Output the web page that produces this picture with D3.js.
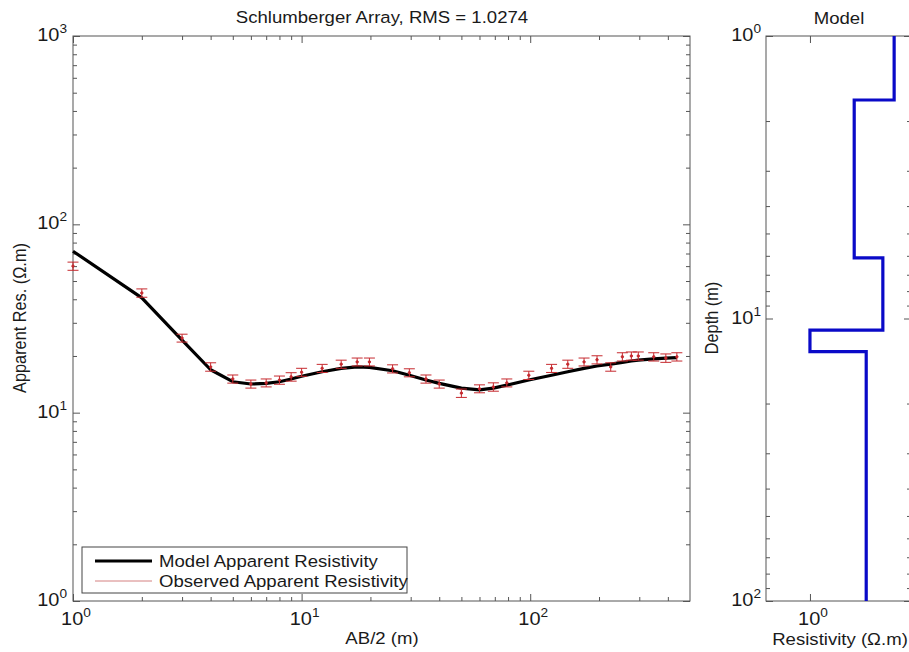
<!DOCTYPE html>
<html>
<head>
<meta charset="utf-8">
<script src="https://cdn.jsdelivr.net/npm/d3@7"></script>
<style>
  body { margin: 0; background: #fff; }
  text { font-family: "Liberation Sans", Arial, sans-serif; fill: #1a1a1a; }
</style>
</head>
<body>
<div id="chart"></div>
<script>
// Sounding: electrode half-spacing AB/2 (m)
const abHalf = [1, 2, 3, 4, 5, 6, 7, 8, 9, 10, 12.3, 14.9, 17.5, 19.8, 25, 29.6, 35, 40, 50, 60, 69, 79, 98.6, 124, 146, 172, 196, 225, 253, 277, 297, 347, 392, 438];
// Model apparent resistivity (ohm.m)
const modelRho = [72, 40.7, 24.3, 16.9, 14.6, 14.2, 14.3, 14.6, 15.1, 15.6, 16.5, 17.2, 17.5, 17.4, 16.7, 15.8, 14.9, 14.3, 13.5, 13.2, 13.5, 14.0, 14.9, 15.8, 16.5, 17.2, 17.7, 18.1, 18.5, 18.8, 19.0, 19.3, 19.5, 19.6];
// Observed apparent resistivity and its error (ohm.m)
const obsRho = [60, 43.2, 24.9, 17.5, 15.1, 14.2, 14.4, 14.9, 15.5, 16.4, 17.2, 18.1, 18.6, 18.6, 17.1, 16.3, 15.1, 14.2, 12.7, 13.4, 13.7, 14.4, 15.8, 17.2, 18.1, 18.6, 19.1, 17.5, 19.8, 20.0, 20.0, 19.8, 19.5, 19.8];
const obsErr = [3.0, 2.2, 1.2, 0.9, 0.75, 0.7, 0.7, 0.75, 0.8, 0.8, 0.85, 0.9, 0.9, 0.9, 0.85, 0.8, 0.75, 0.7, 0.65, 0.65, 0.7, 0.7, 0.8, 0.85, 0.9, 0.9, 0.95, 0.9, 1.0, 1.0, 1.0, 1.0, 1.0, 1.0];

// Layered model: resistivity and depth range of each layer
const layerRes = [2.33, 1.56, 2.08, 1.0, 1.76];
const layerTop = [1, 1.685, 6.1, 11.0, 13.1];
const layerBottom = [1.685, 6.1, 11.0, 13.1, 100];

const W = 909, H = 652;
const FS = 16.3, SX = 1.14;      // font size and horizontal stretch of the text
const TFS = 17.5;                // tick label size
const AX = "#555";

const svg = d3.select("#chart").append("svg")
  .attr("width", W)
  .attr("height", H);

// scales
const x = d3.scaleLog().domain([1, 500]).range([73, 690]);
const y = d3.scaleLog().domain([1, 1000]).range([601, 36]);
const rx = d3.scaleLog().domain([0.643, 2.76]).range([766, 911]);
const ry = d3.scaleLog().domain([1, 100]).range([36, 601]);

function minorTicks(lo, hi) {
  const out = [];
  for (let p = Math.floor(Math.log10(lo)); p <= Math.ceil(Math.log10(hi)); p++) {
    for (let k = 2; k <= 9; k++) {
      const v = k * Math.pow(10, p);
      if (v > lo && v < hi) out.push(v);
    }
  }
  return out;
}

// inward MATLAB style ticks drawn with d3 axes
function drawTicks(axisFn, scale, tx, ty, vals, len) {
  svg.append("g")
    .attr("transform", `translate(${tx},${ty})`)
    .attr("color", AX)
    .call(axisFn(scale).tickValues(vals).tickSize(-len).tickFormat(""))
    .call(g => g.select(".domain").remove());
}

// "10^n" label
function powLabel(px, py, exp, anchor) {
  const t = svg.append("text")
    .attr("transform", `translate(${px},${py}) scale(${SX},1)`)
    .attr("text-anchor", anchor)
    .attr("font-size", TFS);
  t.append("tspan").text("10");
  t.append("tspan").attr("dy", -8).attr("font-size", 12).text(exp);
}

function plainText(px, py, str, anchor, rot) {
  return svg.append("text")
    .attr("transform", `translate(${px},${py}) scale(${SX},1)` + (rot ? " rotate(-90)" : ""))
    .attr("text-anchor", anchor)
    .attr("font-size", FS)
    .text(str);
}

// ---------- left panel: sounding curve ----------
const xMaj = [1, 10, 100], yMaj = [1, 10, 100, 1000];
const xMin = minorTicks(1, 500), yMin = minorTicks(1, 1000);

svg.append("rect")
  .attr("x", x(1)).attr("y", y(1000))
  .attr("width", x(500) - x(1)).attr("height", y(1) - y(1000))
  .attr("fill", "none").attr("stroke", AX).attr("stroke-width", 1);

drawTicks(d3.axisBottom, x, 0, y(1), xMin, 4);
drawTicks(d3.axisTop, x, 0, y(1000), xMin, 4);
drawTicks(d3.axisBottom, x, 0, y(1), xMaj, 7);
drawTicks(d3.axisTop, x, 0, y(1000), xMaj, 7);
drawTicks(d3.axisLeft, y, x(1), 0, yMin, 4);
drawTicks(d3.axisRight, y, x(500), 0, yMin, 4);
drawTicks(d3.axisLeft, y, x(1), 0, yMaj, 7);
drawTicks(d3.axisRight, y, x(500), 0, yMaj, 7);

xMaj.forEach(v => powLabel(x(v) + 3, 625, Math.round(Math.log10(v)), "middle"));
yMaj.forEach(v => powLabel(x(1) - 6, y(v) + 5, Math.round(Math.log10(v)), "end"));

// model curve
const model = abHalf.map((a, i) => [a, modelRho[i]]);
svg.append("path")
  .datum(model)
  .attr("fill", "none")
  .attr("stroke", "#000")
  .attr("stroke-width", 3.2)
  .attr("stroke-linejoin", "round")
  .attr("d", d3.line().x(d => x(d[0])).y(d => y(d[1])));

// observed points with error bars
const obs = abHalf.map((a, i) => ({ a: a, v: obsRho[i], e: obsErr[i] }));
const red = "#c62a2f";
const eb = svg.append("g").attr("stroke", red).attr("stroke-width", 1);
obs.forEach(d => {
  const cx = x(d.a), y0 = y(d.v + d.e), y1 = y(d.v - d.e);
  eb.append("line").attr("x1", cx).attr("x2", cx).attr("y1", y0).attr("y2", y1);
  eb.append("line").attr("x1", cx - 5.5).attr("x2", cx + 5.5).attr("y1", y0).attr("y2", y0);
  eb.append("line").attr("x1", cx - 5.5).attr("x2", cx + 5.5).attr("y1", y1).attr("y2", y1);
  eb.append("circle").attr("cx", cx).attr("cy", y(d.v)).attr("r", 1.2).attr("fill", red);
});

plainText(382, 23, "Schlumberger Array, RMS = 1.0274", "middle");
plainText(382, 644, "AB/2 (m)", "middle");
plainText(26, 318, "Apparent Res. (\u03A9.m)", "middle", true);

// legend
svg.append("rect")
  .attr("x", 82).attr("y", 547).attr("width", 325).attr("height", 46)
  .attr("fill", "#fff").attr("stroke", "#444").attr("stroke-width", 1);
svg.append("line").attr("x1", 95).attr("x2", 152).attr("y1", 561).attr("y2", 561)
  .attr("stroke", "#000").attr("stroke-width", 3.2);
svg.append("line").attr("x1", 95).attr("x2", 152).attr("y1", 581).attr("y2", 581)
  .attr("stroke", "#d48080").attr("stroke-width", 1);
plainText(159, 567, "Model Apparent Resistivity", "start");
plainText(159, 587, "Observed Apparent Resistivity", "start");

// ---------- right panel: layered model ----------
const dMaj = [1, 10, 100], dMin = minorTicks(1, 100);

svg.append("rect")
  .attr("x", rx.range()[0]).attr("y", ry(1))
  .attr("width", rx.range()[1] - rx.range()[0]).attr("height", ry(100) - ry(1))
  .attr("fill", "none").attr("stroke", AX).attr("stroke-width", 1);

drawTicks(d3.axisLeft, ry, rx.range()[0], 0, dMin, 4);
drawTicks(d3.axisRight, ry, rx.range()[1], 0, dMin, 4);
drawTicks(d3.axisLeft, ry, rx.range()[0], 0, dMaj, 7);
drawTicks(d3.axisRight, ry, rx.range()[1], 0, dMaj, 7);
drawTicks(d3.axisBottom, rx, 0, ry(100), [1], 7);
drawTicks(d3.axisTop, rx, 0, ry(1), [1], 7);

dMaj.forEach(v => powLabel(rx.range()[0] - 5, ry(v) + 5, Math.round(Math.log10(v)), "end"));
powLabel(rx(1) + 3, 625, 0, "middle");

const steps = [];
layerRes.forEach((r, i) => {
  steps.push([r, layerTop[i]]);
  steps.push([r, layerBottom[i]]);
});
svg.append("path")
  .datum(steps)
  .attr("fill", "none")
  .attr("stroke", "#0a0ac8")
  .attr("stroke-width", 3.2)
  .attr("d", d3.line().x(d => rx(d[0])).y(d => ry(d[1])));

plainText(839, 24, "Model", "middle");
plainText(840, 645, "Resistivity (\u03A9.m)", "middle");
plainText(718, 318, "Depth (m)", "middle", true);
</script>
</body>
</html>
